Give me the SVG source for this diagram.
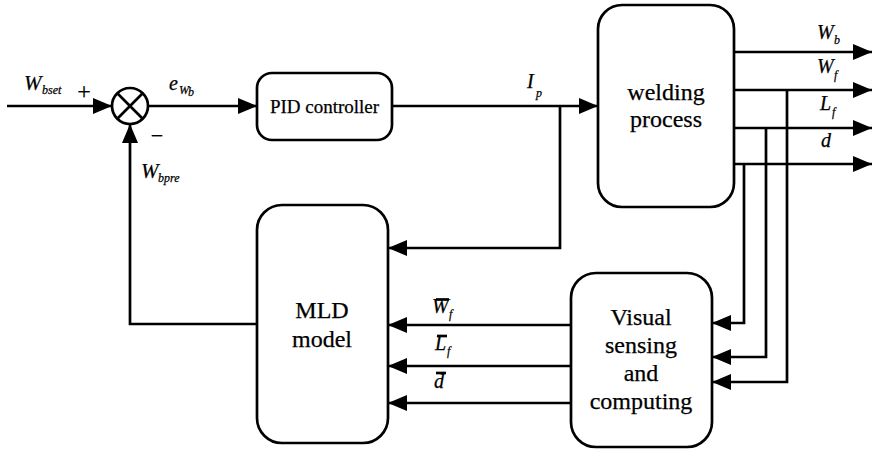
<svg xmlns="http://www.w3.org/2000/svg" width="874" height="450" viewBox="0 0 874 450">
  <style>
    .box { fill: #ffffff; stroke: #000000; stroke-width: 2.7; }
    .wire { fill: none; stroke: #000000; stroke-width: 2.7; marker-end: url(#arrow); }
    .line { fill: none; stroke: #000000; stroke-width: 2.7; }
    text { font-family: 'Liberation Serif', 'DejaVu Serif', serif; fill: #000000; stroke: #000000; stroke-width: 0.25; }
    .txt { text-anchor: middle; }
    .var { font-style: italic; }
    .sub { font-style: italic; font-size: 12px; }
  </style>
  <defs>
    <marker id="arrow" markerUnits="userSpaceOnUse" markerWidth="20" markerHeight="16" refX="19" refY="8" orient="auto">
      <path d="M0,0 L19,8 L0,16 Z" fill="#000000"/>
    </marker>
  </defs>
  <rect width="874" height="450" fill="#ffffff"/>

  <!-- connectors -->
  <g id="connectors">
    <path class="wire" d="M7,106 H112"/>
    <path class="wire" d="M148,106 H257"/>
    <path class="wire" d="M392,106 H598"/>
    <path class="wire" d="M560,106 V248 H388"/>
    <path class="wire" d="M734,52 H872"/>
    <path class="wire" d="M734,90 H872"/>
    <path class="wire" d="M734,128 H872"/>
    <path class="wire" d="M734,164 H872"/>
    <path class="wire" d="M787,90 V382 H712"/>
    <path class="wire" d="M766,128 V357 H712"/>
    <path class="wire" d="M744,164 V323 H712"/>
    <path class="wire" d="M571,325 H388"/>
    <path class="wire" d="M571,366 H388"/>
    <path class="wire" d="M571,403 H388"/>
    <path class="wire" d="M257,324 H130 V124"/>
  </g>

  <!-- summing junction -->
  <g id="sum">
    <circle class="box" cx="130" cy="106" r="18"/>
    <path class="line" d="M117.3,93.3 L142.7,118.7 M142.7,93.3 L117.3,118.7"/>
    <text class="txt" x="84" y="99" font-size="24">+</text>
    <text class="txt" x="157" y="143" font-size="22">−</text>
  </g>

  <!-- signal labels -->
  <g id="labels">
    <text class="var" x="24" y="90" font-size="21">W</text>
    <text class="sub" x="42" y="94">bset</text>
    <text class="var" x="169" y="90" font-size="20">e</text>
    <text class="sub" x="179" y="94" font-size="10">W</text>
    <text class="sub" x="188" y="96" font-size="7">b</text>
    <text class="var" x="141" y="178" font-size="21">W</text>
    <text class="sub" x="158" y="182">bpre</text>
    <text class="var" x="527" y="88" font-size="20">I</text>
    <text class="sub" x="536" y="97" font-size="14">p</text>
    <text class="var" x="817" y="39" font-size="20">W</text>
    <text class="sub" x="834" y="44" font-size="13">b</text>
    <text class="var" x="817" y="73" font-size="20">W</text>
    <text class="sub" x="834" y="79" font-size="14">f</text>
    <text class="var" x="820" y="110" font-size="20">L</text>
    <text class="sub" x="832" y="116" font-size="14">f</text>
    <text class="var" x="821" y="147" font-size="20">d</text>
    <text class="var" x="432" y="313" font-size="20">W</text>
    <text class="sub" x="449" y="318" font-size="14">f</text>
    <path class="line" d="M436,299.5 H449" stroke-width="1.5"/>
    <text class="var" x="435" y="350" font-size="20">L</text>
    <text class="sub" x="447" y="355" font-size="14">f</text>
    <path class="line" d="M437,336 H447" stroke-width="1.5"/>
    <text class="var" x="434" y="388" font-size="20">d</text>
    <path class="line" d="M436,373 H446" stroke-width="1.5"/>
  </g>

  <!-- blocks -->
  <g id="pid">
    <rect class="box" x="257" y="73" width="135" height="67" rx="15"/>
    <text class="txt" x="324.5" y="113" font-size="19">PID controller</text>
  </g>
  <g id="welding">
    <rect class="box" x="598" y="5" width="136" height="202" rx="24"/>
    <text class="txt" x="666" y="100" font-size="24">welding</text>
    <text class="txt" x="666" y="127" font-size="24">process</text>
  </g>
  <g id="mld">
    <rect class="box" x="257" y="205" width="131" height="238" rx="25"/>
    <text class="txt" x="322" y="318" font-size="24">MLD</text>
    <text class="txt" x="322" y="347" font-size="24">model</text>
  </g>
  <g id="visual">
    <rect class="box" x="571" y="273" width="141" height="174" rx="25"/>
    <text class="txt" x="641" y="325" font-size="24">Visual</text>
    <text class="txt" x="641" y="353" font-size="24">sensing</text>
    <text class="txt" x="641" y="381" font-size="24">and</text>
    <text class="txt" x="641" y="409" font-size="24">computing</text>
  </g>
</svg>
